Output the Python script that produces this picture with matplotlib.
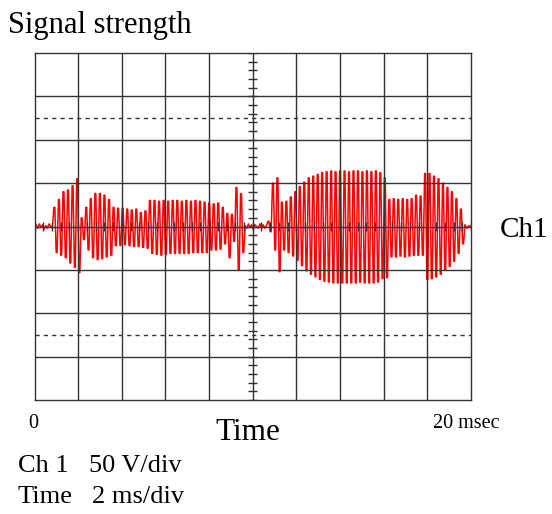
import numpy as np
import matplotlib.pyplot as plt

# Ch1 trace, volts (50 V/div), time in ms (2 ms/div)
# quiet stretches: small baseline jitter
quiet_a = [0, 2, -2, 3, -1, 2, -3, 1, -2, 3, 0, -2]
quiet_b = [1, -2, 3, -1, 2, -3, 2, 0, -2, 3, -1, 2, -2, 1]
quiet_c = [2, -2, 1, 0]

# bursts: successive peak (upper) / trough (lower) values
burst_a_span = (0.89, 9.65)
burst_a_upper = [22, 31, 40, 42, 47, 55, 10, 22, 32, 38, 38, 36, 31, 22, 21, 21,
                 20, 19, 20, 16, 18, 30, 30, 29, 30, 29, 30, 30, 29, 30, 29, 30,
                 29, 28, 27, 26, 27, 22, 15, 14, 45, 38]
burst_a_lower = [-30, -33, -36, -42, -47, -53, -15, -27, -36, -38, -37, -35, -33,
                 -22, -22, -21, -22, -23, -23, -24, -25, -31, -32, -33, -32, -31,
                 -31, -31, -31, -31, -30, -30, -30, -30, -27, -27, -26, -20, -36,
                 -17, -50, -30]

burst_b_span = (10.70, 19.72)
burst_b_upper = [6, 50, 56, 28, 29, 34, 40, 46, 51, 56, 58, 60, 62, 63, 64, 63,
                 64, 64, 63, 64, 64, 63, 64, 63, 64, 62, 56, 31, 32, 31, 32, 31,
                 32, 36, 35, 61, 61, 58, 55, 50, 45, 40, 32, 20]
burst_b_lower = [-6, -27, -52, -27, -30, -34, -39, -45, -51, -55, -58, -61, -63,
                 -64, -65, -65, -65, -65, -65, -65, -64, -65, -65, -65, -64, -60,
                 -59, -35, -35, -34, -35, -34, -33, -33, -33, -61, -60, -58, -55,
                 -50, -46, -40, -31, -20]


def burst(span, upper, lower):
    # hold each peak briefly, steep edges in between
    n = len(upper)
    step = (span[1] - span[0]) / n
    t0 = span[0] + step * np.arange(n)
    t = np.column_stack([t0, t0 + step * 0.2, t0 + step * 0.5, t0 + step * 0.7]).ravel()
    v = np.column_stack([upper, upper, lower, lower]).ravel()
    return t, v


ta, va = burst(burst_a_span, burst_a_upper, burst_a_lower)
tb, vb = burst(burst_b_span, burst_b_upper, burst_b_lower)
t = np.concatenate([
    np.linspace(0, burst_a_span[0], len(quiet_a), endpoint=False), ta,
    np.linspace(burst_a_span[1], burst_b_span[0], len(quiet_b), endpoint=False), tb,
    np.linspace(burst_b_span[1], 20, len(quiet_c)),
])
v = np.concatenate([quiet_a, va, quiet_b, vb, quiet_c])

plt.rcParams['font.family'] = 'Liberation Serif'
W, H = 552, 514
fig = plt.figure(figsize=(W / 100, H / 100), dpi=100)
ax = fig.add_axes([34.5 / W, 1 - 400 / H, 436.5 / W, 347 / H])

ax.plot(t, v, color='#ff0000', lw=1.1, zorder=2)

gc = '#333333'
for x in range(2, 20, 2):
    ax.axvline(x, color=gc, lw=1, zorder=3)
for y in range(-150, 200, 50):
    ax.axhline(y, color=gc, lw=1, zorder=3)
for y in (-125, 125):
    ax.axhline(y, color=gc, lw=1, ls=(0, (3, 3)), zorder=3)

# minor ticks on the centre axes
ty = np.arange(-200, 201, 10)
ax.hlines(ty, 10 - 0.2, 10 + 0.2, color=gc, lw=1, zorder=3)
tx = np.arange(0, 20.01, 0.4)
ax.vlines(tx, -5, 5, color=gc, lw=1, zorder=3)

ax.set_xlim(0, 20)
ax.set_ylim(-200, 200)
ax.set_xticks([])
ax.set_yticks([])
for s in ax.spines.values():
    s.set_color(gc)
    s.set_linewidth(1)


def px(x, y):
    return x / W, 1 - y / H


fig.text(*px(8, 25), 'Signal strength', fontsize=22, va='center', ha='left')
fig.text(*px(500, 230), 'Ch1', fontsize=21, va='center', ha='left')
fig.text(*px(33, 424), '0', fontsize=14.5, va='center', ha='center')
fig.text(*px(248, 432), 'Time', fontsize=22.5, va='center', ha='center')
fig.text(*px(466, 423), '20 msec', fontsize=14.5, va='center', ha='center')
fig.text(*px(18, 466), 'Ch 1', fontsize=19, va='center', ha='left')
fig.text(*px(89, 466), '50 V/div', fontsize=19, va='center', ha='left')
fig.text(*px(18, 497), 'Time', fontsize=19, va='center', ha='left')
fig.text(*px(92, 497), '2 ms/div', fontsize=19, va='center', ha='left')

fig.savefig('out.png', dpi=100)
